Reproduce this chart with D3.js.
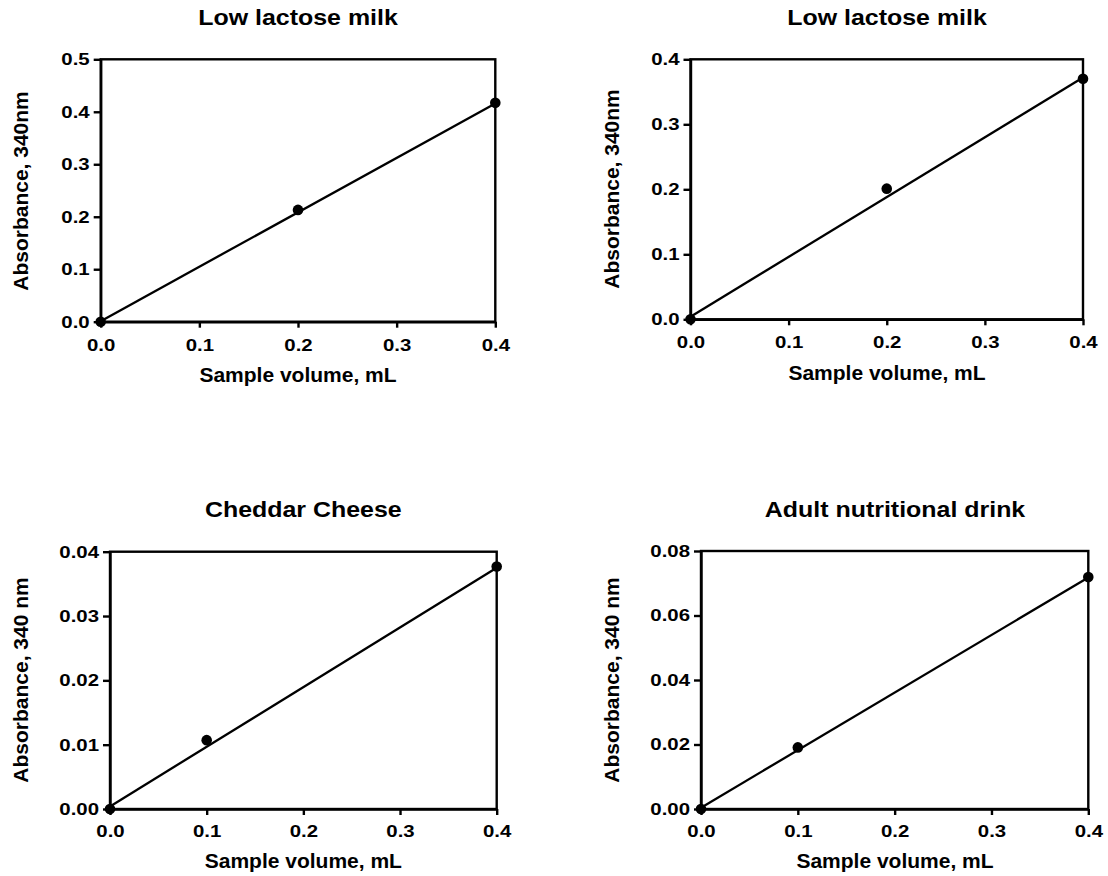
<!DOCTYPE html>
<html>
<head>
<meta charset="utf-8">
<script src="https://cdn.jsdelivr.net/npm/d3@7"></script>
<style>
  body { margin: 0; background: #fff; }
  text { font-family: "Liberation Sans", Arial, sans-serif; font-weight: bold; fill: #000; }
</style>
</head>
<body>
<svg id="chart" width="1108" height="876"></svg>
<script>
// data
const titles = ['Low lactose milk', 'Low lactose milk', 'Cheddar Cheese', 'Adult nutritional drink']
const yLabels = ['Absorbance, 340nm', 'Absorbance, 340nm', 'Absorbance, 340 nm', 'Absorbance, 340 nm']
const xLabel = 'Sample volume, mL'
const xTicks = [0, 0.1, 0.2, 0.3, 0.4]
const sampleVolumes = [[0, 0.2, 0.4], [0, 0.2, 0.4], [0, 0.1, 0.4], [0, 0.1, 0.4]]
const absorbances = [[0, 0.213, 0.417], [0, 0.201, 0.370], [0, 0.0107, 0.0377], [0, 0.0191, 0.0719]]
// fitted line, y at x = 0 and at x = 0.4
const fitLines = [[0.001, 0.416], [0.004, 0.372], [0.0004, 0.0375], [0.0004, 0.0718]]
const yMax = [0.5, 0.4, 0.04, 0.08]
const yTicks = [[0, 0.1, 0.2, 0.3, 0.4, 0.5], [0, 0.1, 0.2, 0.3, 0.4],
  [0, 0.01, 0.02, 0.03, 0.04], [0, 0.02, 0.04, 0.06, 0.08]]
const yFormats = ['.1f', '.1f', '.2f', '.2f']

// panel placement on the page
const layout = [
  {left: 100.7, right: 495.3, top: 59.3, bottom: 321.7, cx: 298, titleY: 25, yLabX: 28.3, yLabY: 191, xLabY: 381.7, tickY: 351},
  {left: 690.5, right: 1083, top: 59.3, bottom: 319.3, cx: 887, titleY: 25, yLabX: 619, yLabY: 189, xLabY: 380, tickY: 348.5},
  {left: 110, right: 496.7, top: 551.7, bottom: 809, cx: 303.3, titleY: 516.7, yLabX: 28.3, yLabY: 680, xLabY: 868.3, tickY: 837},
  {left: 701, right: 1088.3, top: 551, bottom: 809, cx: 895, titleY: 517, yLabX: 619, yLabY: 680, xLabY: 868.3, tickY: 836.7}
]

const TICK_FONT = 17
const TICK_STRETCH = 1.2   // tick labels look wider than plain Arial
const TITLE_FONT = 23
const TITLE_STRETCH = 1.085
const LABEL_FONT = 21
const STROKE = 2.4

const svg = d3.select('#chart')

layout.forEach((p, i) => {
  const g = svg.append('g')

  const xs = d3.scaleLinear().domain([0, 0.4]).range([p.left, p.right])
  const ys = d3.scaleLinear().domain([0, yMax[i]]).range([p.bottom, p.top])

  // frame (top and right sides)
  g.append('rect')
    .attr('x', xs.range()[0])
    .attr('y', ys.range()[1])
    .attr('width', xs.range()[1] - xs.range()[0])
    .attr('height', ys.range()[0] - ys.range()[1])
    .attr('fill', 'none')
    .attr('stroke', '#000')
    .attr('stroke-width', STROKE)

  // y axis
  const yAxis = g.append('g')
    .attr('transform', `translate(${p.left},0)`)
    .call(d3.axisLeft(ys).tickValues(yTicks[i]).tickFormat(d3.format(yFormats[i]))
      .tickSize(7).tickSizeOuter(0).tickPadding(4))
  yAxis.selectAll('text')
    .attr('x', -11 / TICK_STRETCH)
    .attr('transform', `scale(${TICK_STRETCH},1)`)

  // x axis
  const xAxis = g.append('g')
    .attr('transform', `translate(0,${p.bottom})`)
    .call(d3.axisBottom(xs).tickValues(xTicks).tickFormat(d3.format('.1f'))
      .tickSize(6).tickSizeOuter(0))
  xAxis.selectAll('text')
    .attr('y', p.tickY - p.bottom)
    .attr('dy', 0)
    .attr('transform', `scale(${TICK_STRETCH},1)`)

  g.selectAll('.domain, .tick line')
    .attr('stroke', '#000')
    .attr('stroke-width', STROKE)
  g.selectAll('.tick text')
    .attr('fill', '#000')
    .style('font-size', TICK_FONT + 'px')
    .style('font-family', '"Liberation Sans", Arial, sans-serif')
    .style('font-weight', 'bold')

  // fitted line
  const line = d3.line().x(d => xs(d[0])).y(d => ys(d[1]))
  g.append('path')
    .attr('d', line([[0, fitLines[i][0]], [0.4, fitLines[i][1]]]))
    .attr('fill', 'none')
    .attr('stroke', '#000')
    .attr('stroke-width', 2.3)

  // data points
  g.selectAll('.pt')
    .data(d3.zip(sampleVolumes[i], absorbances[i]))
    .enter().append('circle')
    .attr('class', 'pt')
    .attr('cx', d => xs(d[0]))
    .attr('cy', d => ys(d[1]))
    .attr('r', 5.3)
    .attr('fill', '#000')

  // title
  g.append('text')
    .attr('transform', `translate(${p.cx},${p.titleY}) scale(${TITLE_STRETCH},1)`)
    .attr('text-anchor', 'middle')
    .style('font-size', TITLE_FONT + 'px')
    .text(titles[i])

  // axis labels
  g.append('text')
    .attr('transform', `translate(${p.cx},${p.xLabY})`)
    .attr('text-anchor', 'middle')
    .style('font-size', LABEL_FONT + 'px')
    .text(xLabel)

  g.append('text')
    .attr('transform', `translate(${p.yLabX},${p.yLabY}) rotate(-90)`)
    .attr('text-anchor', 'middle')
    .style('font-size', LABEL_FONT + 'px')
    .text(yLabels[i])
})
</script>
</body>
</html>
